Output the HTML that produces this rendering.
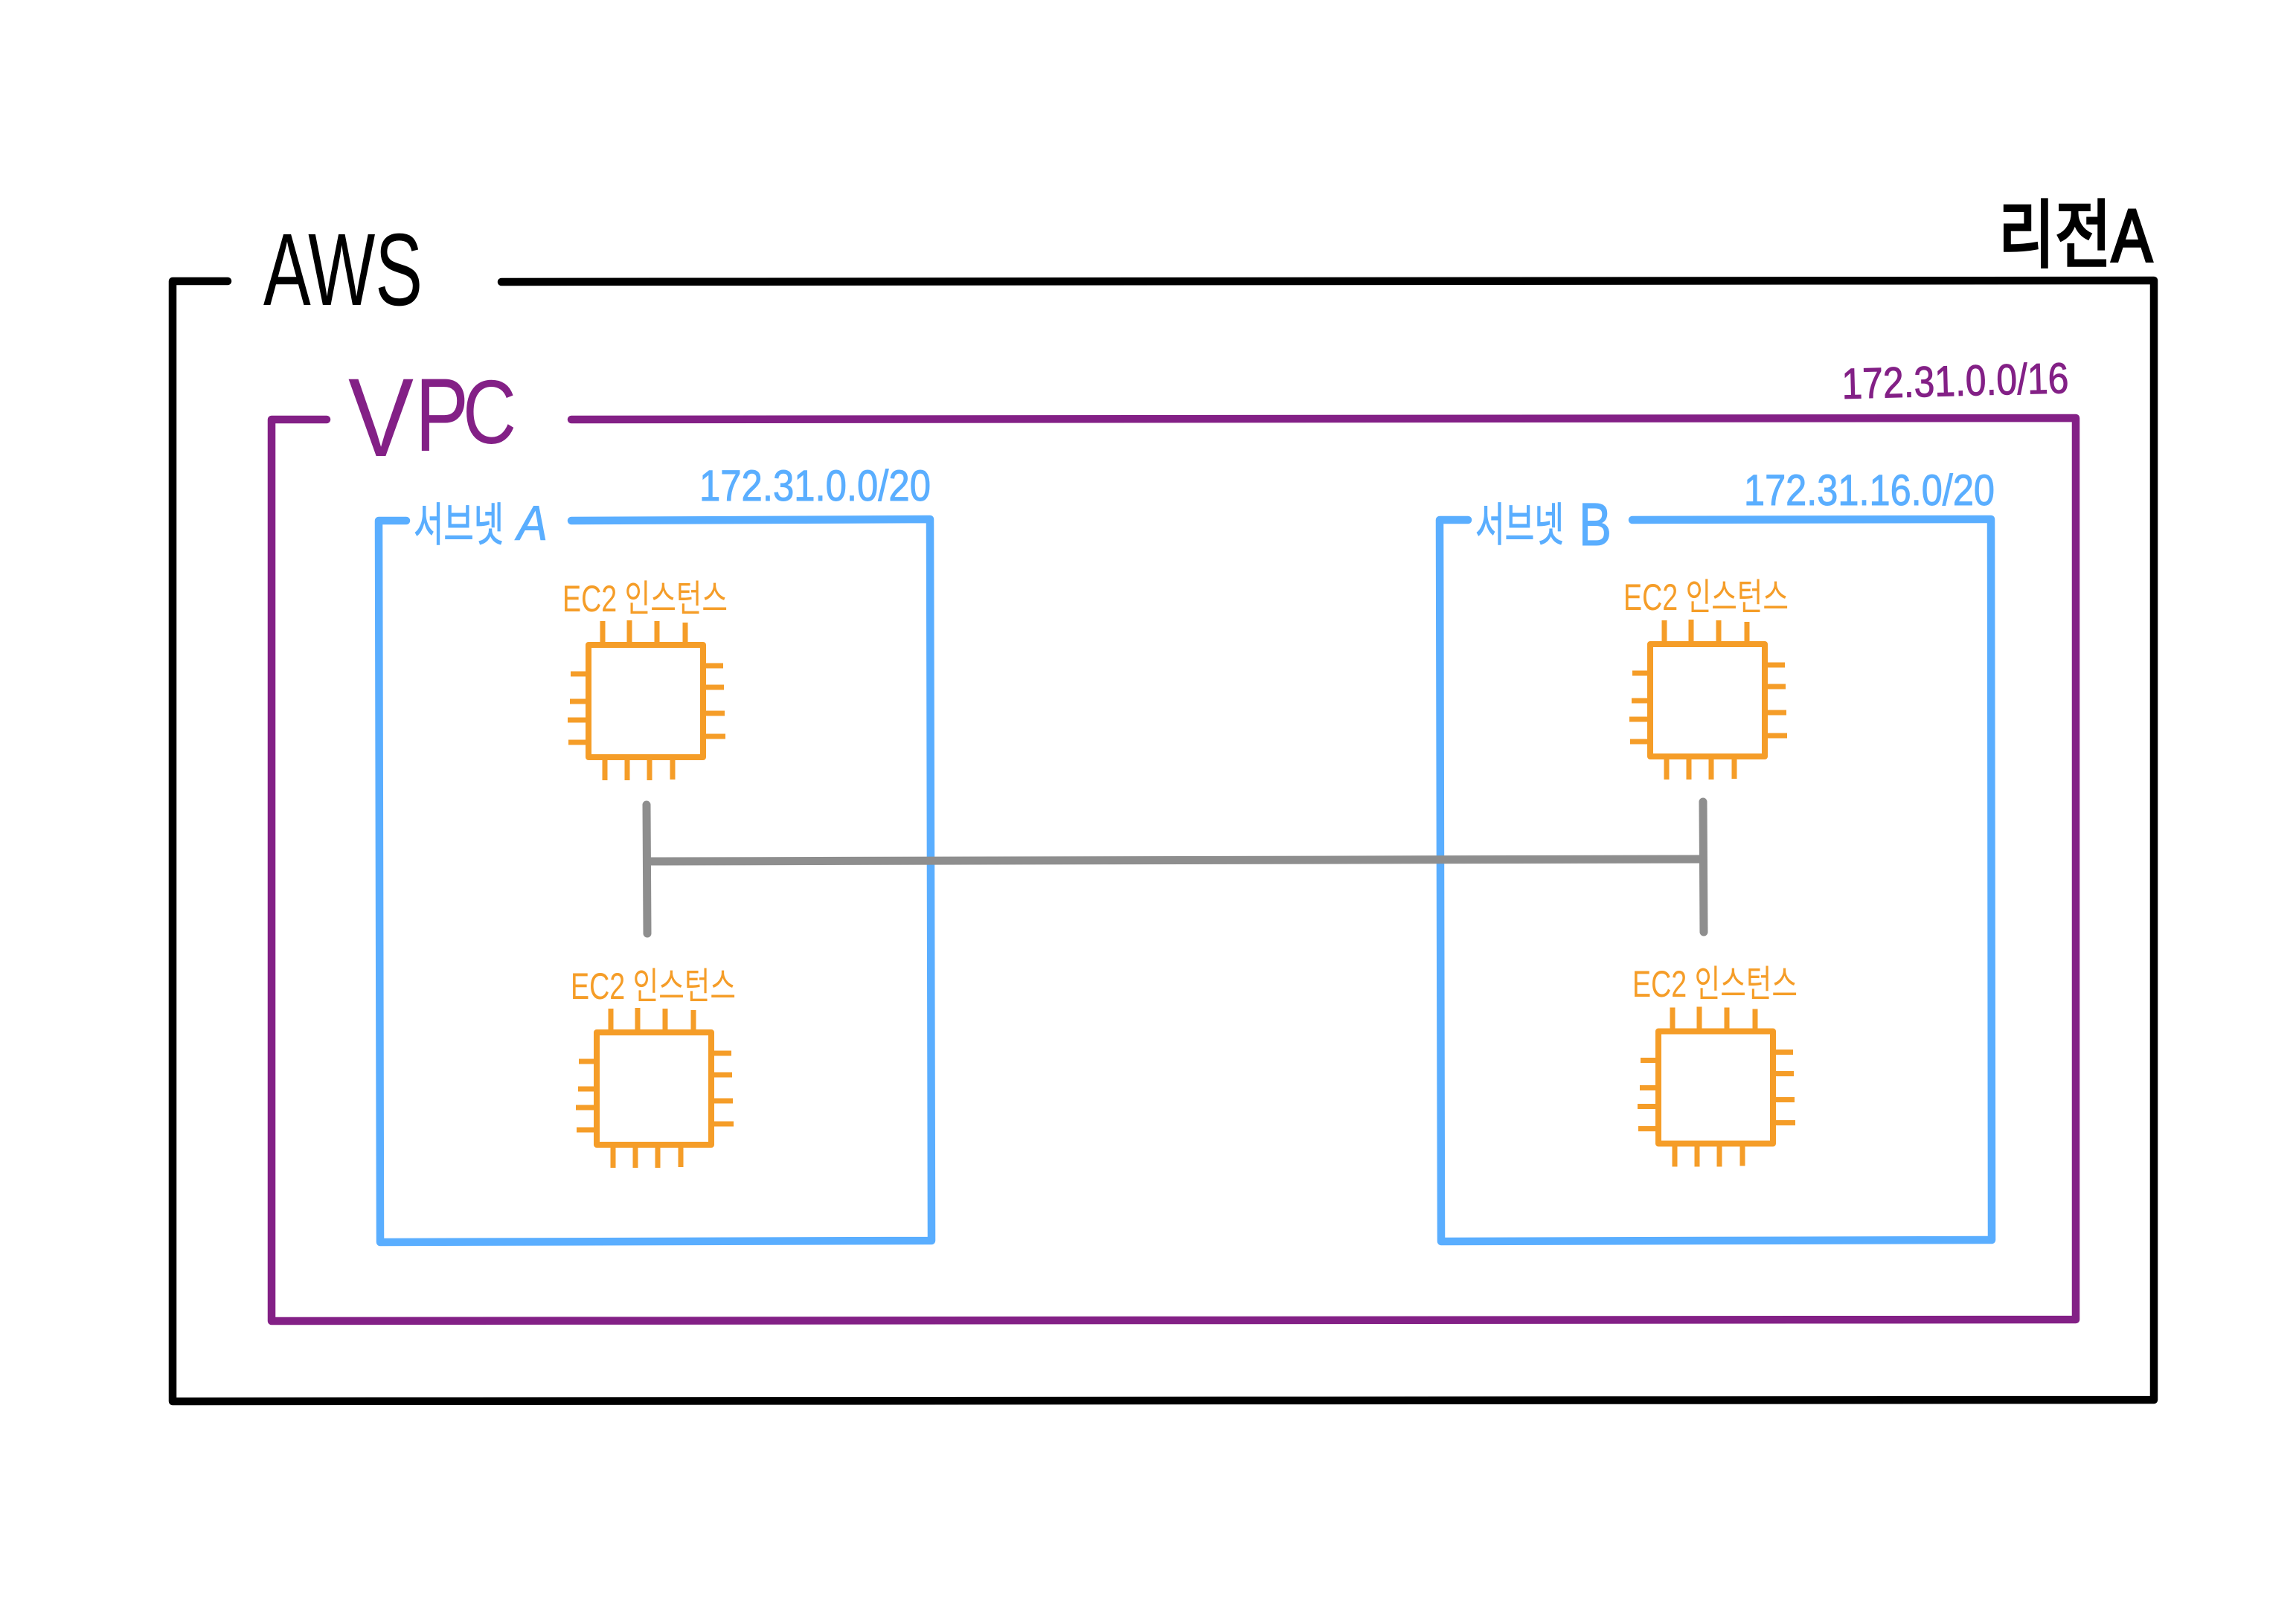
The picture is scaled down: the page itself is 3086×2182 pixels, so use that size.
<!DOCTYPE html>
<html lang="ko">
<head>
<meta charset="utf-8">
<title>AWS VPC</title>
<style>
html,body{margin:0;padding:0;background:#fff;width:3086px;height:2182px;overflow:hidden}
svg{display:block}
text{font-family:"Liberation Sans","Noto Sans CJK KR",sans-serif}
</style>
</head>
<body>
<svg xmlns="http://www.w3.org/2000/svg" width="3086" height="2182" viewBox="0 0 3086 2182">
<rect width="3086" height="2182" fill="#fff"/>
<defs>
<g id="chip" fill="none" stroke="#f59d28" stroke-width="7">
<path stroke-linejoin="round" stroke-width="8" d="M791 867H945V1018H791Z"/>
<path d="M810 867V835M846 867V834M883 867V835M921 867V837"/>
<path d="M813 1018V1049M843 1018V1049M873 1018V1049M904 1018V1048"/>
<path d="M791 906H767M791 943H766M791 968H763M791 998H764"/>
<path d="M945 895H972M945 924H973M945 959H974M945 990H975"/>
</g>
</defs>

<!-- Region frame -->
<path d="M306 378H232V1884L2895 1882V377L674 379" fill="none" stroke="#000" stroke-width="10.5" stroke-linecap="round" stroke-linejoin="round"/>
<!-- VPC frame -->
<path d="M439 564H365V1776L2790 1774V562L768 564" fill="none" stroke="#832086" stroke-width="10.5" stroke-linecap="round" stroke-linejoin="round"/>
<!-- Subnet A -->
<path d="M546 700H509L511 1670L1252 1668L1250 698L768 700" fill="none" stroke="#5aaeff" stroke-width="10.5" stroke-linecap="round" stroke-linejoin="round"/>
<!-- Subnet B -->
<path d="M1973 699H1935L1937 1669L2677 1667L2676 698L2194 699" fill="none" stroke="#5aaeff" stroke-width="10.5" stroke-linecap="round" stroke-linejoin="round"/>

<!-- Chips -->
<use href="#chip"/>
<use href="#chip" transform="translate(11 521)"/>
<use href="#chip" transform="translate(1427 -1)"/>
<use href="#chip" transform="translate(1438 519.5)"/>

<!-- Grey connectors -->
<g fill="none" stroke="#8e8e8e" stroke-width="11" stroke-linecap="round">
<path d="M869 1082L870 1255"/>
<path d="M2289 1078L2290 1253"/>
<path d="M870 1158L2289 1155" stroke-linecap="butt"/>
</g>

<!-- Labels -->
<text x="354" y="410" font-size="138" fill="#000" textLength="214" lengthAdjust="spacingAndGlyphs">AWS</text>
<text x="468" y="613" font-size="150" fill="#832086" textLength="88" lengthAdjust="spacingAndGlyphs">V</text>
<text x="558" y="606" font-size="140" fill="#832086" textLength="72" lengthAdjust="spacingAndGlyphs">P</text>
<text x="622" y="596" font-size="122" fill="#832086" textLength="72" lengthAdjust="spacingAndGlyphs">C</text>
<text x="2686" y="351" font-size="100" fill="#000" stroke="#000" stroke-width="3.5" textLength="207" lengthAdjust="spacingAndGlyphs">리전A</text>
<text x="2476" y="536" font-size="58" fill="#832086" stroke="#832086" stroke-width="1" textLength="305" lengthAdjust="spacingAndGlyphs" transform="rotate(-1.5 2476 536)">172.31.0.0/16</text>
<text x="2344" y="679" font-size="58" fill="#5aaeff" stroke="#5aaeff" stroke-width="1" textLength="337" lengthAdjust="spacingAndGlyphs">172.31.16.0/20</text>
<text x="940" y="673" font-size="58" fill="#5aaeff" stroke="#5aaeff" stroke-width="1" textLength="311" lengthAdjust="spacingAndGlyphs">172.31.0.0/20</text>
<g fill="#5aaeff" stroke="#5aaeff" stroke-width="1">
<text x="556" y="727" font-size="62" textLength="121" lengthAdjust="spacingAndGlyphs">서브넷</text>
<text x="695" y="726" font-size="66" font-style="italic" textLength="41" lengthAdjust="spacingAndGlyphs">A</text>
<text x="1983" y="727" font-size="62" textLength="119" lengthAdjust="spacingAndGlyphs">서브넷</text>
<text x="2122" y="733" font-size="82" textLength="44" lengthAdjust="spacingAndGlyphs">B</text>
</g>
<g font-size="50" fill="#f59d28">
<text x="756" y="822" textLength="222" lengthAdjust="spacingAndGlyphs">EC2 인스턴스</text>
<text x="767" y="1343" textLength="222" lengthAdjust="spacingAndGlyphs">EC2 인스턴스</text>
<text x="2182" y="820" textLength="222" lengthAdjust="spacingAndGlyphs">EC2 인스턴스</text>
<text x="2194" y="1340" textLength="222" lengthAdjust="spacingAndGlyphs">EC2 인스턴스</text>
</g>
</svg>
</body>
</html>
